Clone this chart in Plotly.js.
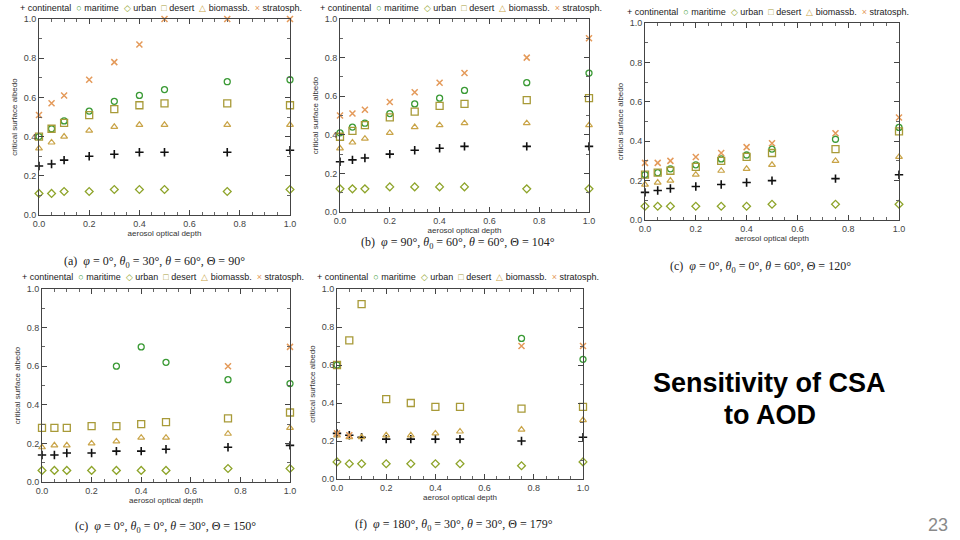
<!DOCTYPE html>
<html>
<head>
<meta charset="utf-8">
<script src="https://cdn.plot.ly/plotly-3.0.1.min.js"></script>
<style>
html,body{margin:0;padding:0;background:#fff;}
#chart{width:960px;height:540px;}
</style>
</head>
<body>
<div id="chart"></div>
<script>
// ---------- data ----------
const aod = [0, 0.05, 0.1, 0.2, 0.3, 0.4, 0.5, 0.75, 1.0];
const seriesNames = ["continental", "maritime", "urban", "desert", "biomassb.", "stratosph."];

// (a) phi=0, theta0=30, theta=60, Theta=90
const a_continental = [0.25, 0.26, 0.28, 0.30, 0.31, 0.32, 0.32, 0.32, 0.33];
const a_maritime    = [0.40, 0.44, 0.48, 0.53, 0.58, 0.61, 0.64, 0.68, 0.69];
const a_urban       = [0.11, 0.11, 0.12, 0.12, 0.13, 0.13, 0.13, 0.12, 0.13];
const a_desert      = [0.40, 0.44, 0.47, 0.51, 0.54, 0.56, 0.57, 0.57, 0.56];
const a_biomass     = [0.34, 0.37, 0.40, 0.43, 0.45, 0.46, 0.46, 0.46, 0.46];
const a_strat       = [0.51, 0.57, 0.61, 0.69, 0.78, 0.87, 1.00, 1.00, 1.00];

// (b) phi=90, theta0=60, theta=60, Theta=104
const b_continental = [0.26, 0.27, 0.28, 0.30, 0.32, 0.33, 0.34, 0.34, 0.34];
const b_maritime    = [0.41, 0.44, 0.46, 0.51, 0.56, 0.59, 0.63, 0.67, 0.72];
const b_urban       = [0.12, 0.12, 0.12, 0.13, 0.13, 0.13, 0.13, 0.12, 0.12];
const b_desert      = [0.39, 0.42, 0.45, 0.49, 0.52, 0.55, 0.56, 0.58, 0.59];
const b_biomass     = [0.33, 0.36, 0.38, 0.41, 0.44, 0.45, 0.46, 0.46, 0.45];
const b_strat       = [0.50, 0.51, 0.53, 0.57, 0.62, 0.67, 0.72, 0.80, 0.90];

// (c) phi=0, theta0=0, theta=60, Theta=120
const c_continental = [0.14, 0.15, 0.16, 0.17, 0.18, 0.19, 0.20, 0.21, 0.23];
const c_maritime    = [0.23, 0.24, 0.26, 0.28, 0.31, 0.33, 0.36, 0.41, 0.47];
const c_urban       = [0.07, 0.07, 0.07, 0.07, 0.07, 0.07, 0.08, 0.08, 0.08];
const c_desert      = [0.23, 0.24, 0.25, 0.27, 0.30, 0.32, 0.34, 0.36, 0.45];
const c_biomass     = [0.18, 0.19, 0.20, 0.23, 0.25, 0.26, 0.28, 0.30, 0.32];
const c_strat       = [0.29, 0.29, 0.30, 0.32, 0.34, 0.37, 0.39, 0.44, 0.52];

// (c, lower) phi=0, theta0=0, theta=30, Theta=150
const d_continental = [0.14, 0.14, 0.15, 0.15, 0.16, 0.16, 0.17, 0.18, 0.19];
const d_maritime    = [null, null, null, null, 0.60, 0.70, 0.62, 0.53, 0.51];
const d_urban       = [0.06, 0.06, 0.06, 0.06, 0.06, 0.06, 0.06, 0.07, 0.07];
const d_desert      = [0.28, 0.28, 0.28, 0.29, 0.29, 0.30, 0.31, 0.33, 0.36];
const d_biomass     = [0.18, 0.19, 0.19, 0.20, 0.21, 0.23, 0.23, 0.25, 0.28];
const d_strat       = [null, null, null, null, null, null, null, 0.60, 0.70];

// (f) phi=180, theta0=30, theta=30, Theta=179
const f_continental = [0.24, 0.23, 0.22, 0.21, 0.21, 0.21, 0.21, 0.20, 0.22];
const f_maritime    = [0.60, null, null, null, null, null, null, 0.74, 0.63];
const f_urban       = [0.09, 0.08, 0.08, 0.08, 0.08, 0.08, 0.08, 0.07, 0.09];
const f_desert      = [0.60, 0.73, 0.92, 0.42, 0.40, 0.38, 0.38, 0.37, 0.38];
const f_biomass     = [0.23, 0.22, 0.22, 0.23, 0.23, 0.24, 0.25, 0.26, 0.31];
const f_strat       = [0.24, 0.23, null, null, null, null, null, 0.70, 0.70];

// ---------- styles ----------
const seriesStyle = [
  {symbol: "cross-thin", color: "#111111", size: 6, lw: 1.6},
  {symbol: "circle-open", color: "#3a9a35", size: 6, lw: 1.3},
  {symbol: "diamond-open", color: "#8ea42a", size: 6, lw: 1.3},
  {symbol: "square-open", color: "#a89a38", size: 7, lw: 1.3},
  {symbol: "triangle-up-open", color: "#c9a448", size: 6, lw: 1.2},
  {symbol: "x-thin", color: "#e49a5a", size: 6, lw: 1.5}
];
const legendGlyph = ["+", "○", "◇", "□", "△", "×"];

const W = 960, H = 540;
const panels = [
  {id: "", series: [a_continental, a_maritime, a_urban, a_desert, a_biomass, a_strat],
   box: [39, 290, 19, 215], legend: [161, 8],
   caption: "(a)  <i>φ</i> = 0°, <i>θ</i><sub>0</sub> = 30°, <i>θ</i> = 60°, Θ = 90°", cap: [154, 262]},
  {id: "2", series: [b_continental, b_maritime, b_urban, b_desert, b_biomass, b_strat],
   box: [340, 589, 19, 212], legend: [461, 8],
   caption: "(b)  <i>φ</i> = 90°, <i>θ</i><sub>0</sub> = 60°, <i>θ</i> = 60°, Θ = 104°", cap: [458, 243]},
  {id: "3", series: [c_continental, c_maritime, c_urban, c_desert, c_biomass, c_strat],
   box: [645, 899, 23, 220], legend: [768, 12],
   caption: "(c)  <i>φ</i> = 0°, <i>θ</i><sub>0</sub> = 0°, <i>θ</i> = 60°, Θ = 120°", cap: [760, 267]},
  {id: "4", series: [d_continental, d_maritime, d_urban, d_desert, d_biomass, d_strat],
   box: [42, 290, 289, 482], legend: [163, 277],
   caption: "(c)  <i>φ</i> = 0°, <i>θ</i><sub>0</sub> = 0°, <i>θ</i> = 30°, Θ = 150°", cap: [165, 527]},
  {id: "5", series: [f_continental, f_maritime, f_urban, f_desert, f_biomass, f_strat],
   box: [337, 583, 289, 479], legend: [458, 277],
   caption: "(f)  <i>φ</i> = 180°, <i>θ</i><sub>0</sub> = 30°, <i>θ</i> = 30°, Θ = 179°", cap: [454, 525]}
];

const traces = [];
const layout = {
  width: W, height: H,
  margin: {l: 0, r: 0, t: 0, b: 0},
  paper_bgcolor: "#ffffff", plot_bgcolor: "#ffffff",
  showlegend: false,
  font: {family: "Liberation Sans, Arial, sans-serif", size: 9, color: "#333"},
  annotations: []
};

function axisBase(minorStep) {
  return {
    range: [0, 1], fixedrange: true,
    showline: true, linecolor: "#444", linewidth: 1, mirror: "allticks",
    tickmode: "linear", tick0: 0, dtick: 0.2, tickformat: ".1f",
    ticks: "inside", ticklen: 5, tickcolor: "#444", tickwidth: 1,
    tickfont: {size: 9, color: "#444", family: "Liberation Sans, Arial, sans-serif"},
    showgrid: false, zeroline: false,
    minor: {ticks: "inside", ticklen: 3, tickcolor: "#666", tickwidth: 1,
            tickmode: "linear", tick0: 0, dtick: minorStep, showgrid: false}
  };
}

panels.forEach(p => {
  const [x0, x1, y0, y1] = p.box;
  const xa = "xaxis" + p.id, ya = "yaxis" + p.id;
  const xr = "x" + p.id, yr = "y" + p.id;
  const xax = axisBase(0.05);
  xax.domain = [x0 / W, x1 / W];
  xax.anchor = yr;
  xax.title = {text: "aerosol optical depth", font: {size: 8, color: "#333"}, standoff: 2};
  const yax = axisBase(0.1);
  yax.domain = [1 - y1 / H, 1 - y0 / H];
  yax.anchor = xr;
  yax.title = {text: "critical surface albedo", font: {size: 8, color: "#333"}, standoff: 4};
  layout[xa] = xax;
  layout[ya] = yax;

  p.series.forEach((vals, i) => {
    const s = seriesStyle[i];
    traces.push({
      type: "scatter", mode: "markers",
      x: aod, y: vals, xaxis: xr, yaxis: yr,
      name: seriesNames[i], cliponaxis: false, hoverinfo: "skip",
      marker: {symbol: s.symbol, size: s.size, color: s.color,
               line: {color: s.color, width: s.lw}}
    });
  });

  // legend row
  const legText = seriesNames.map((n, i) =>
    "<span style='color:" + seriesStyle[i].color + "'>" + legendGlyph[i] + "</span> " + n
  ).join("  ");
  layout.annotations.push({
    xref: "paper", yref: "paper", x: p.legend[0] / W, y: 1 - p.legend[1] / H,
    xanchor: "center", yanchor: "middle", showarrow: false,
    text: legText, font: {size: 9, color: "#222", family: "Liberation Sans, Arial, sans-serif"}
  });
  // caption
  layout.annotations.push({
    xref: "paper", yref: "paper", x: p.cap[0] / W, y: 1 - p.cap[1] / H,
    xanchor: "center", yanchor: "middle", showarrow: false,
    text: p.caption, font: {size: 12, color: "#222", family: "Liberation Serif, Times New Roman, serif"}
  });
});

layout.annotations.push({
  xref: "paper", yref: "paper", x: 769 / W, y: 1 - 383 / H,
  xanchor: "center", yanchor: "middle", showarrow: false,
  text: "<b>Sensitivity of CSA</b>", font: {size: 27, color: "#000", family: "Liberation Sans, Arial, sans-serif"}
});
layout.annotations.push({
  xref: "paper", yref: "paper", x: 770 / W, y: 1 - 415 / H,
  xanchor: "center", yanchor: "middle", showarrow: false,
  text: "<b>to AOD</b>", font: {size: 27, color: "#000", family: "Liberation Sans, Arial, sans-serif"}
});
layout.annotations.push({
  xref: "paper", yref: "paper", x: 938 / W, y: 1 - 525 / H,
  xanchor: "center", yanchor: "middle", showarrow: false,
  text: "23", font: {size: 18, color: "#8a8a8a", family: "Liberation Sans, Arial, sans-serif"}
});

Plotly.newPlot("chart", traces, layout, {staticPlot: true, displayModeBar: false});
</script>
</body>
</html>
